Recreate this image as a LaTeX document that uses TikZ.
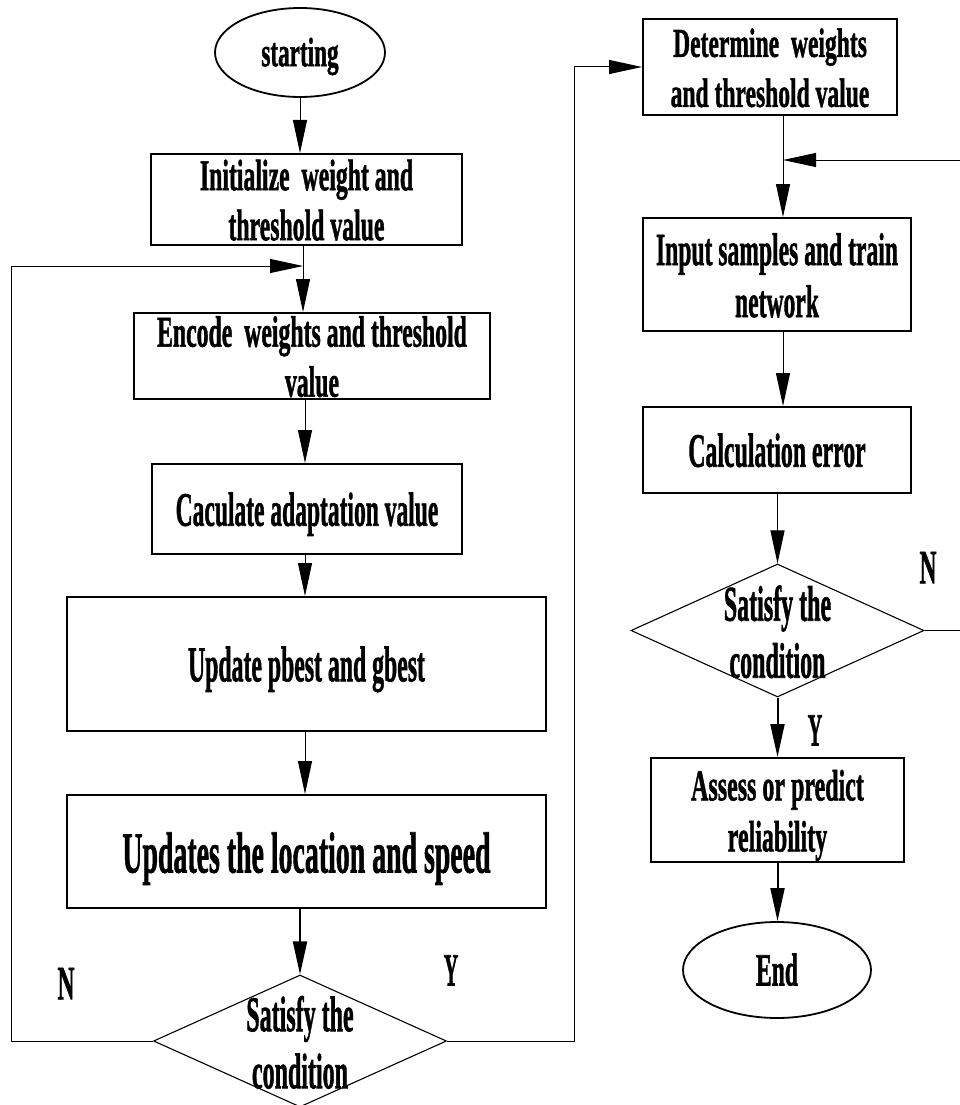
\documentclass[tikz,border=0pt]{standalone}
\usepackage{fontspec}
\setmainfont{Liberation Serif}[BoldFeatures={FakeBold=1.5}]
\usepackage{graphicx}
\usetikzlibrary{arrows.meta,shapes.geometric}
\newcommand\tb[4]{\fontsize{#1}{#3}\selectfont\smash{\raisebox{-0.27em}{\scalebox{#2}[1]{\begin{tabular}{@{}c@{}}#4\end{tabular}}}}}
\begin{document}
\begin{tikzpicture}[x=1pt,y=-1pt,font=\bfseries,
  boxn/.style={draw,rectangle,line width=2pt,inner sep=0pt},
  ell/.style={draw,ellipse,line width=1.8pt,inner sep=0pt},
  dmd/.style={draw,diamond,line width=1.1pt,inner sep=0pt},
  lab/.style={inner sep=0pt},
  ln/.style={line width=1pt},
  arr/.style={-{Triangle[length=33pt,width=14pt]},line width=1pt},
  arrk/.style={arr,line width=2pt}]
\useasboundingbox (0,0) rectangle (959,1105);
% left column
\node[ell,minimum width=170pt,minimum height=89pt] (start) at (300,52.5) {\tb{41}{0.565}{44}{starting}};
\node[boxn,minimum width=311pt,minimum height=91pt] (init) at (306.5,199.5) {\tb{44}{0.54}{50}{Initialize\ \ weight and\\threshold value}};
\node[boxn,minimum width=356pt,minimum height=86pt] (enc) at (312,356) {\tb{44}{0.54}{50}{Encode\ \ weights and threshold\\value}};
\node[boxn,minimum width=310pt,minimum height=90pt] (calc) at (307,509) {\tb{48}{0.49}{50}{Caculate adaptation value}};
\node[boxn,minimum width=479pt,minimum height=134pt] (pbest) at (306.5,664) {\tb{50}{0.475}{50}{Update pbest and gbest}};
\node[boxn,minimum width=479pt,minimum height=113pt] (upd) at (306.5,851.5) {\tb{58}{0.48}{58}{Updates the location and speed}};
\node[dmd,minimum width=293pt,minimum height=132pt] (dia) at (300,1041) {\tb{50}{0.48}{57}{Satisfy the\\condition}};
% right column
\node[boxn,minimum width=254pt,minimum height=96pt] (det) at (770,67) {\tb{41}{0.575}{50}{Determine\ \ weights\\and threshold value}};
\node[boxn,minimum width=268pt,minimum height=113pt] (inp) at (777,274.5) {\tb{46}{0.513}{52}{Input samples and train\\network}};
\node[boxn,minimum width=268pt,minimum height=86pt] (calc2) at (777,450) {\tb{48}{0.496}{50}{Calculation error}};
\node[dmd,minimum width=293pt,minimum height=133pt] (dia2) at (777.5,630.5) {\tb{50}{0.48}{57}{Satisfy the\\condition}};
\node[boxn,minimum width=253pt,minimum height=104pt] (assess) at (777.5,810) {\tb{44}{0.545}{51}{Assess or predict\\reliability}};
\node[ell,minimum width=188pt,minimum height=96pt] (end) at (777,970) {\tb{46}{0.513}{46}{End}};
% labels
\node[lab] (nL) at (66,983) {\tb{48}{0.49}{48}{N}};
\node[lab] (yL) at (451,970) {\tb{46}{0.435}{46}{Y}};
\node[lab] (nR) at (928,567) {\tb{48}{0.49}{48}{N}};
\node[lab] (yR) at (815,730) {\tb{46}{0.435}{46}{Y}};
% helper coordinates
\coordinate (j1) at (303,266);
\coordinate (colL) at (305,0);
\coordinate (lx) at (11,0);
\coordinate (rx) at (574,0);
\coordinate (j2) at (783,160);
\coordinate (rx2) at (961,0);
% left connectors
\draw[arr] (start.south) -- (start.south |- init.north);
\draw[ln] (j1 |- init.south) -- (j1);
\draw[arr] (j1) -- (j1 |- enc.north);
\draw[arr] (colL |- enc.south) -- (colL |- calc.north);
\draw[arr] (colL |- calc.south) -- (colL |- pbest.north);
\draw[arr] (colL |- pbest.south) -- (colL |- upd.north);
\draw[arrk] (dia.north |- upd.south) -- (dia.north);
\draw[arr] (dia.west) -- (lx |- dia.west) -- (lx |- j1) -- (j1);
\draw[arr] (dia.east) -- (rx |- dia.east) -- (rx |- det.west) -- (det.west);
% right connectors
\draw[ln] (j2 |- det.south) -- (j2);
\draw[arr] (j2) -- (j2 |- inp.north);
\draw[arr] (dia2.east) -- (rx2 |- dia2.east) -- (rx2 |- j2) -- (j2);
\draw[arr] (j2 |- inp.south) -- (j2 |- calc2.north);
\draw[arr] (dia2.north |- calc2.south) -- (dia2.north);
\draw[arrk] (dia2.south) -- (dia2.south |- assess.north);
\draw[arrk] (assess.south) -- (assess.south |- end.north);
\end{tikzpicture}
\end{document}
